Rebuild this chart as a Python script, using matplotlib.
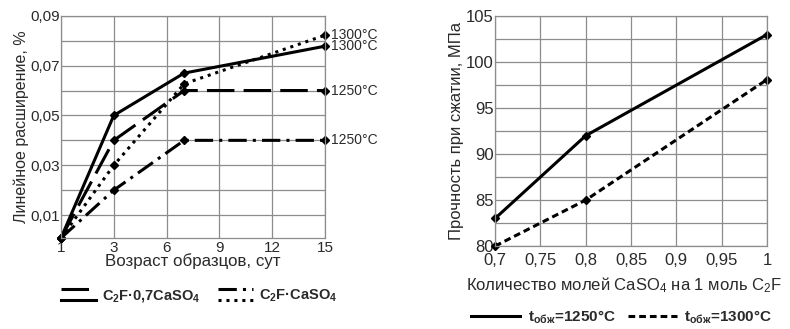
import numpy as np
import matplotlib
matplotlib.use("Agg")
from matplotlib import pyplot as plt
from matplotlib.lines import Line2D
from matplotlib.legend_handler import HandlerBase

plt.rcParams['font.family'] = ['Liberation Sans', 'DejaVu Sans']
plt.rcParams['mathtext.default'] = 'regular'

TXT = '#2a2a2a'
GRID = '#8c8c8c'

# ---- left chart data ----
age_ticks = [1, 3, 6, 9, 12, 15]
age_days = [1, 3, 7, 15]
exp_07_1300 = [0.0008, 0.050, 0.067, 0.0778]
exp_07_1250 = [0.0008, 0.040, 0.060, 0.060]
exp_10_1300 = [0.0008, 0.030, 0.0627, 0.0822]
exp_10_1250 = [0.0008, 0.020, 0.040, 0.040]
exp_yticks = [0.01, 0.03, 0.05, 0.07, 0.09]

# ---- right chart data ----
moles = [0.7, 0.8, 1.0]
str_1250 = [83, 92, 103]
str_1300 = [80, 85, 98.1]
mole_ticks = [0.7, 0.75, 0.8, 0.85, 0.9, 0.95, 1.0]
str_ticks = [80, 85, 90, 95, 100, 105]


def comma(v):
    return ('%g' % v).replace('.', ',')


class TwoLines(HandlerBase):
    # legend key made of two stacked lines
    def create_artists(self, legend, orig, xd, yd, w, h, fs, trans):
        arts = []
        for ln, frac in zip(orig, (1.05, -0.05)):
            yy = -yd + h * frac
            l = Line2D([-xd, -xd + w], [yy, yy])
            l.update_from(ln)
            l.set_marker('None')
            l.set_transform(trans)
            arts.append(l)
        return arts


fig = plt.figure(figsize=(7.9, 3.29), dpi=100)

# ================= left =================
ax1 = fig.add_axes([0.0772, 0.2766, 0.3342, 0.6754])
pos = lambda d: np.interp(d, age_ticks, np.arange(len(age_ticks)))
xp = pos(age_days)
mk = dict(marker='D', markersize=4.5, color='black', clip_on=False)
l07_1300, = ax1.plot(xp, exp_07_1300, lw=2.2, ls='-', **mk)
l07_1250, = ax1.plot(xp, exp_07_1250, lw=2.2, dashes=(9, 3), **mk)
l10_1300, = ax1.plot(xp, exp_10_1300, lw=2.2, dashes=(1, 1.6), **mk)
l10_1250, = ax1.plot(xp, exp_10_1250, lw=2.2, dashes=(6, 2, 1, 2), **mk)

ends = [(exp_10_1300[-1], '1300°C'), (exp_07_1300[-1], '1300°C'),
        (exp_07_1250[-1], '1250°C'), (exp_10_1250[-1], '1250°C')]
for yv, t in ends:
    ax1.annotate(t, xy=(xp[-1], yv), xytext=(4, 0), textcoords='offset points',
                 va='center', ha='left', fontsize=10, color=TXT, annotation_clip=False)

ax1.set_xlim(0, len(age_ticks) - 1)
ax1.set_ylim(0.0008, 0.09)
ax1.set_xticks(np.arange(len(age_ticks)))
ax1.set_xticklabels([str(a) for a in age_ticks])
ax1.set_yticks(exp_yticks)
ax1.set_yticklabels([comma(v) for v in exp_yticks])
ax1.set_yticks(np.arange(0.01, 0.0901, 0.01), minor=True)
ax1.grid(True, which='both', color=GRID, lw=0.9)
ax1.set_xlabel('Возраст образцов, сут', fontsize=12.2, color=TXT, labelpad=-1)
ax1.set_ylabel('Линейное расширение, %', fontsize=11.5, color=TXT, labelpad=1)

leg1 = fig.legend([(l07_1250, l07_1300), (l10_1250, l10_1300)],
                  ['C$_2$F·0,7CaSO$_4$', 'C$_2$F·CaSO$_4$'],
                  handler_map={tuple: TwoLines()}, loc='center',
                  bbox_to_anchor=(0.252, 0.1), ncol=2, frameon=False,
                  prop={'weight': 'bold', 'size': 10.5}, handlelength=2.4,
                  handletextpad=0.4, columnspacing=1.2, labelcolor=TXT)

# ================= right =================
ax2 = fig.add_axes([0.6266, 0.252, 0.3443, 0.699])
ax2.plot(moles, str_1250, lw=2.2, ls='-', label='t$_{обж}$=1250°C', **mk)
ax2.plot(moles, str_1300, lw=2.2, dashes=(2.2, 1.3), label='t$_{обж}$=1300°C', **mk)
ax2.set_xlim(0.7, 1.0)
ax2.set_ylim(80, 105)
ax2.set_xticks(mole_ticks)
ax2.set_xticklabels([comma(v) for v in mole_ticks])
ax2.set_yticks(str_ticks)
ax2.set_yticks(np.arange(80, 105.01, 2.5), minor=True)
ax2.grid(True, which='both', color=GRID, lw=0.9)
ax2.set_xlabel('Количество молей CaSO$_4$ на 1 моль C$_2$F', fontsize=12, color=TXT)
ax2.xaxis.set_label_coords(0.474, -0.125)
ax2.set_ylabel('Прочность при сжатии, МПа', fontsize=12, color=TXT, labelpad=1)
ax2.legend(loc='center', bbox_to_anchor=(0.787, 0.035), bbox_transform=fig.transFigure,
           ncol=2, frameon=False, prop={'weight': 'bold', 'size': 11}, handlelength=3.2,
           handletextpad=0.5, columnspacing=0.8, labelcolor=TXT, markerscale=0)

for ax in (ax1, ax2):
    for s in ax.spines.values():
        s.set_color(GRID)
        s.set_linewidth(0.9)
    ax.tick_params(which='both', length=0, colors=TXT, labelsize=12)
ax1.tick_params(labelsize=11)
ax1.tick_params(axis='x', pad=2)
ax1.tick_params(axis='y', pad=1)
ax2.tick_params(axis='x', pad=5)
ax2.tick_params(axis='y', pad=1)

fig.savefig('out.png', dpi=100)
